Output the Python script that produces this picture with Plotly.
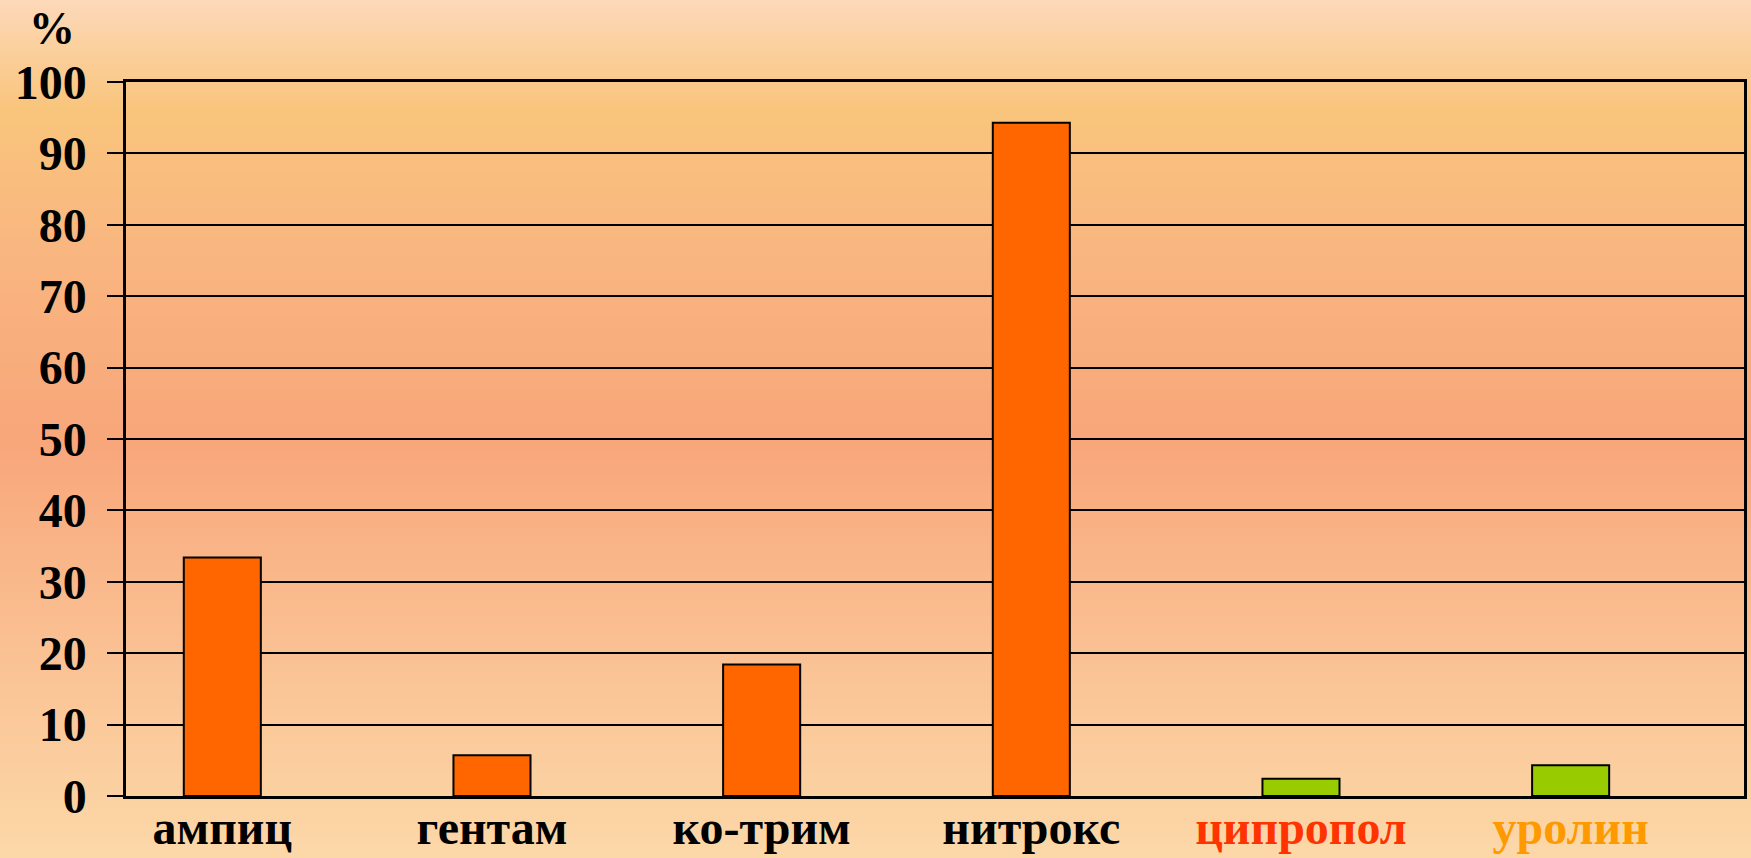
import plotly.graph_objects as go

categories = ["ампиц", "гентам", "ко-трим", "нитрокс", "ципропол", "уролин"]
values = [33.4, 5.7, 18.4, 94.3, 2.4, 4.3]
bar_colors = ["#FF6600", "#FF6600", "#FF6600", "#FF6600", "#99CC00", "#99CC00"]
label_colors = ["#000000", "#000000", "#000000", "#000000", "#FF3300", "#FF9900"]
y_ticks = [0, 10, 20, 30, 40, 50, 60, 70, 80, 90, 100]

W, H = 1751, 858
ML, MR, MT, MB = 126, 7, 82, 62
PH = H - MT - MB
PW = W - ML - MR

FONT = "Liberation Serif, Times New Roman, serif"

BAR_W = 0.2857
xs = list(range(len(categories)))

fig = go.Figure()
fig.add_trace(go.Bar(
    x=xs, y=values, width=BAR_W, offset=-BAR_W,
    marker=dict(color=bar_colors, line=dict(color="#000000", width=2)),
    showlegend=False,
))

# background gradient (vertical) as paper-referenced bands
stops = [(0, (253, 217, 186)), (110, (249, 197, 124)), (250, (249, 182, 128)),
         (440, (248, 166, 122)), (650, (250, 193, 147)), (858, (252, 216, 168))]

def col_at(py):
    for (a, ca), (b, cb) in zip(stops[:-1], stops[1:]):
        if a <= py <= b:
            t = (py - a) / (b - a)
            return "rgb(%d,%d,%d)" % tuple(round(ca[i] + (cb[i] - ca[i]) * t) for i in range(3))
    return "rgb(%d,%d,%d)" % stops[-1][1]

shapes = []
step = 4
for py in range(0, H, step):
    y0 = (H - MB - (py + step + 1)) / PH
    y1 = (H - MB - py) / PH
    shapes.append(dict(type="rect", xref="paper", yref="paper",
                       x0=-ML / PW - 0.01, x1=1 + MR / PW + 0.01, y0=y0, y1=y1,
                       fillcolor=col_at(py + step / 2), line=dict(width=0), layer="below"))

ticktext = ["<span style='color:%s'>%s</span>" % (c, t) for t, c in zip(categories, label_colors)]

fig.update_layout(
    width=W, height=H,
    margin=dict(l=ML, r=MR, t=MT, b=MB),
    paper_bgcolor="rgba(0,0,0,0)",
    plot_bgcolor="rgba(0,0,0,0)",
    shapes=shapes,
    xaxis=dict(range=[-0.5, 5.5], tickvals=[x - BAR_W / 2 for x in xs], ticktext=ticktext,
               showgrid=False, zeroline=False, ticks="", automargin=False,
               ticklabelstandoff=-12,
               showline=True, linecolor="#000000", linewidth=2.5, mirror=True,
               tickfont=dict(family=FONT, size=48, color="#000000", weight="bold")),
    yaxis=dict(range=[0, 100], tickvals=y_ticks, showgrid=True, gridcolor="#000000", gridwidth=2,
               zeroline=False, ticks="outside", ticklen=16, tickwidth=2, tickcolor="#000000",
               showline=True, linecolor="#000000", linewidth=2.5, mirror=True,
               ticklabelstandoff=11, automargin=False,
               tickfont=dict(family=FONT, size=48, color="#000000", weight="bold")),
    annotations=[dict(text="<b>%</b>", xref="paper", yref="paper",
                      x=(52 - ML) / PW, y=(H - MB - 28) / PH, showarrow=False,
                      xanchor="center", yanchor="middle",
                      font=dict(family=FONT, size=46, color="#000000"))],
)

fig.write_html("out.html")
